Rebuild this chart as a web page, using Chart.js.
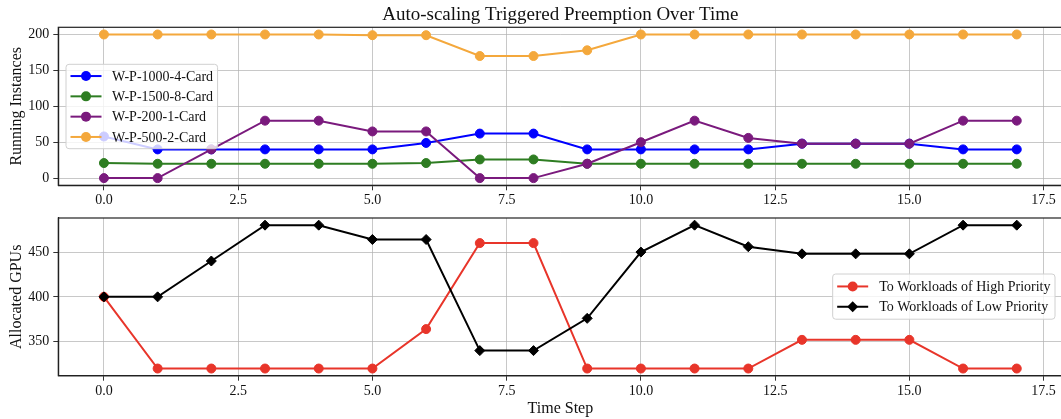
<!DOCTYPE html>
<html>
<head>
<meta charset="utf-8">
<script src="https://cdn.jsdelivr.net/npm/chart.js@4/dist/chart.umd.min.js"></script>
<style>
  html, body { margin: 0; padding: 0; background: #fff; overflow: hidden; }
  #top, #bottom { position: absolute; left: 0; }
  #top { top: 0; }
  #bottom { top: 212px; }
</style>
</head>
<body>
<canvas id="top" width="1070" height="212"></canvas>
<canvas id="bottom" width="1070" height="207"></canvas>
<script>
// data
const timeSteps = [0, 1, 2, 3, 4, 5, 6, 7, 8, 9, 10, 11, 12, 13, 14, 15, 16, 17];

const wp1000_4 = [58, 40, 40, 40, 40, 40, 49, 62, 62, 40, 40, 40, 40, 48, 48, 48, 40, 40];
const wp1500_8 = [21, 20, 20, 20, 20, 20, 21, 26, 26, 20, 20, 20, 20, 20, 20, 20, 20, 20];
const wp200_1 = [0, 0, 40, 80, 80, 65, 65, 0, 0, 20, 50, 80, 56, 48, 48, 48, 80, 80];
const wp500_2 = [200, 200, 200, 200, 200, 199, 199, 170, 170, 178, 200, 200, 200, 200, 200, 200, 200, 200];

const highPriority = [400, 320, 320, 320, 320, 320, 364, 460, 460, 320, 320, 320, 320, 352, 352, 352, 320, 320];
const lowPriority = [400, 400, 440, 480, 480, 464, 464, 340, 340, 376, 450, 480, 456, 448, 448, 448, 480, 480];

const xTicks = [0, 2.5, 5, 7.5, 10, 12.5, 15, 17.5];

const FONT = '"Liberation Serif", "DejaVu Serif", serif';
Chart.defaults.font.family = FONT;
Chart.defaults.color = '#111';

function pts(vals) {
  return timeSteps.map((s, i) => ({ x: s, y: vals[i] }));
}

function line(label, vals, color, style) {
  return {
    label: label,
    data: pts(vals),
    borderColor: color,
    backgroundColor: color,
    borderWidth: 2,
    pointStyle: style,
    pointRadius: style === 'rectRot' ? 5 : 4.5,
    pointBorderWidth: 1,
    pointBorderColor: color,
    pointBackgroundColor: color,
    tension: 0
  };
}

// box around the plot area, like matplotlib spines
const frame = {
  id: 'frame',
  afterDatasetsDraw(chart) {
    const a = chart.chartArea, ctx = chart.ctx;
    ctx.save();
    ctx.strokeStyle = '#222';
    ctx.lineWidth = 1.2;
    ctx.strokeRect(a.left, a.top, a.right - a.left, a.bottom - a.top);
    ctx.restore();
  }
};

// legend box drawn inside the plot area
const boxLegend = {
  id: 'boxLegend',
  afterDraw(chart, args, o) {
    const ctx = chart.ctx, sets = chart.data.datasets;
    ctx.save();
    ctx.font = '14px ' + FONT;
    const textW = Math.max(...sets.map(d => ctx.measureText(d.label).width));
    const w = o.padX + o.handle + o.gap + textW + o.padX;
    const h = o.padY * 2 + o.rowH * sets.length;
    const x = o.side === 'right' ? chart.chartArea.right - o.offsetX - w : chart.chartArea.left + o.offsetX;
    const y = o.y;
    ctx.beginPath();
    ctx.roundRect(x, y, w, h, 3);
    ctx.fillStyle = 'rgba(255,255,255,0.8)';
    ctx.fill();
    ctx.strokeStyle = '#d0d0d0';
    ctx.lineWidth = 1;
    ctx.stroke();
    sets.forEach((d, i) => {
      const cy = y + o.padY + o.rowH * (i + 0.5);
      const x1 = x + o.padX, x2 = x1 + o.handle, cx = (x1 + x2) / 2;
      ctx.strokeStyle = d.borderColor;
      ctx.lineWidth = 2;
      ctx.beginPath();
      ctx.moveTo(x1, cy);
      ctx.lineTo(x2, cy);
      ctx.stroke();
      ctx.fillStyle = d.borderColor;
      ctx.beginPath();
      if (d.pointStyle === 'rectRot') {
        const r = 5.5;
        ctx.moveTo(cx - r, cy); ctx.lineTo(cx, cy - r); ctx.lineTo(cx + r, cy); ctx.lineTo(cx, cy + r);
        ctx.closePath();
      } else {
        ctx.arc(cx, cy, 5, 0, Math.PI * 2);
      }
      ctx.fill();
      ctx.fillStyle = '#111';
      ctx.textBaseline = 'middle';
      ctx.fillText(d.label, x2 + o.gap, cy + 1);
    });
    ctx.restore();
  }
};

function xScale(height, withTitle) {
  return {
    type: 'linear',
    min: -0.85,
    max: 17.85,
    afterBuildTicks(scale) { scale.ticks = xTicks.map(v => ({ value: v })); },
    afterFit(scale) { scale.height = height; scale.paddingLeft = 0; scale.paddingRight = 0; },
    ticks: { padding: 2, font: { size: 14 }, color: '#111', callback: v => Number(v).toFixed(1) },
    grid: { color: 'rgba(176,176,176,0.7)', lineWidth: 1, tickColor: '#333', tickLength: 5 },
    border: { color: '#222', width: 1.2 },
    title: withTitle
      ? { display: true, text: 'Time Step', font: { size: 16 }, color: '#111', padding: { top: 0, bottom: 0.4 } }
      : { display: false }
  };
}

function yScale(min, max, label) {
  return {
    min: min,
    max: max,
    ticks: { stepSize: 50, includeBounds: false, padding: 4, font: { size: 14 }, color: '#111' },
    afterFit(scale) { scale.width = 58.3; scale.paddingTop = 0; scale.paddingBottom = 0; },
    grid: { color: 'rgba(176,176,176,0.7)', lineWidth: 1, tickColor: '#333', tickLength: 5 },
    border: { color: '#222', width: 1.2 },
    title: { display: true, text: label, font: { size: 16 }, color: '#111', padding: { top: 7, bottom: 0 } }
  };
}

// draw order: later series on top, like the original
const topSets = [
  line('W-P-1000-4-Card', wp1000_4, '#0000ff', 'circle'),
  line('W-P-1500-8-Card', wp1500_8, '#2e7d22', 'circle'),
  line('W-P-200-1-Card', wp200_1, '#7a1a7d', 'circle'),
  line('W-P-500-2-Card', wp500_2, '#f4a83c', 'circle')
];
topSets.forEach((d, i) => { d.order = topSets.length - i; });

new Chart(document.getElementById('top'), {
  type: 'line',
  data: { datasets: topSets },
  options: {
    responsive: false,
    animation: false,
    layout: { padding: { left: 0, right: 7.6, top: 0, bottom: 0 } },
    scales: {
      x: xScale(26.7, false),
      y: yScale(-10, 210, 'Running Instances')
    },
    plugins: {
      legend: { display: false },
      tooltip: { enabled: false },
      title: {
        display: true,
        text: 'Auto-scaling Triggered Preemption Over Time',
        fullSize: false,
        font: { size: 19, weight: 'normal' },
        color: '#111',
        padding: { top: 3.5, bottom: 1 }
      },
      boxLegend: { side: 'left', offsetX: 7.7, y: 64.3, padX: 4.5, padY: 1.6, rowH: 20.3, handle: 31, gap: 10.5 }
    }
  },
  plugins: [frame, boxLegend]
});

const bottomSets = [
  line('To Workloads of High Priority', highPriority, '#e8352a', 'circle'),
  line('To Workloads of Low Priority', lowPriority, '#000000', 'rectRot')
];
bottomSets.forEach((d, i) => { d.order = bottomSets.length - i; });

new Chart(document.getElementById('bottom'), {
  type: 'line',
  data: { datasets: bottomSets },
  options: {
    responsive: false,
    animation: false,
    layout: { padding: { left: 0, right: 7.6, top: 5.3, bottom: 0 } },
    scales: {
      x: xScale(43.3, true),
      y: yScale(312, 488, 'Allocated GPUs')
    },
    plugins: {
      legend: { display: false },
      tooltip: { enabled: false },
      boxLegend: { side: 'right', offsetX: 7.4, y: 62, padX: 4.5, padY: 2.3, rowH: 20.3, handle: 31, gap: 11 }
    }
  },
  plugins: [frame, boxLegend]
});
</script>
</body>
</html>
